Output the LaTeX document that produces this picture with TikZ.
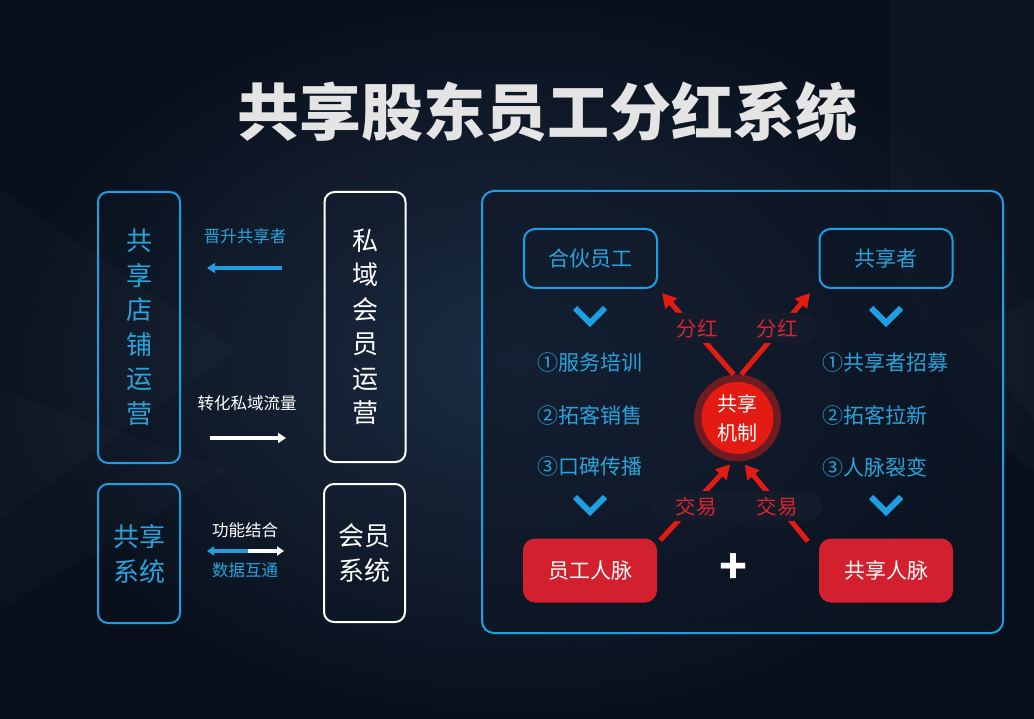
\documentclass[tikz,border=0pt]{standalone}
\usepackage{fontspec}
\newfontfamily\cjk{Noto Sans CJK SC}
\usetikzlibrary{arrows.meta}
\definecolor{bgA}{HTML}{1C2C43}
\definecolor{bgB}{HTML}{09101C}
\definecolor{cyanb}{HTML}{1E9FE3}
\definecolor{cyant}{HTML}{2AA3DB}
\definecolor{redf}{HTML}{D3202F}
\definecolor{redt}{HTML}{D62631}
\definecolor{redarr}{HTML}{E31B12}
\definecolor{halo}{HTML}{6E1C22}
\definecolor{pillc}{HTML}{141B2B}
\definecolor{panelc}{HTML}{0D1625}
\definecolor{titlec}{HTML}{E4E4E4}
\begin{document}
\begin{tikzpicture}[x=1pt,y=-1pt,
  cbox/.style={draw=cyanb, line width=2pt, rounded corners=10pt, align=center},
  wbox/.style={draw=white, line width=2pt, rounded corners=10pt, align=center},
  vtext/.style={font=\cjk\fontsize{26}{34.5}\selectfont},
  btext/.style={font=\cjk\fontsize{26}{35}\selectfont},
  small/.style={font=\cjk\fontsize{16.5}{20}\selectfont},
  item/.style={font=\cjk\fontsize{21}{24}\selectfont, text=cyant, anchor=west, inner sep=0pt},
  topbox/.style={draw=cyanb, line width=2pt, rounded corners=11pt, minimum width=133pt, minimum height=59pt, text=cyant, font=\cjk\fontsize{21}{24}\selectfont},
  redbox/.style={fill=redf, rounded corners=12pt, minimum width=134pt, minimum height=64pt, text=white, font=\cjk\fontsize{21}{24}\selectfont},
  larrow/.style={line width=4pt, -{Triangle[length=8pt,width=10pt]}},
  rarrow/.style={draw=redarr, line width=5pt, -{Triangle[length=14pt,width=15pt]}},
  chev/.style={draw=cyanb, line width=6pt, miter limit=10},
  pill/.style={fill=pillc, rounded corners=15pt},
  redlab/.style={text=redt, font=\cjk\fontsize{20.5}{24}\selectfont},
]
% background
\shade[inner color=bgA, outer color=bgB] (0,0) rectangle (1034,719);
\useasboundingbox (0,0) rectangle (1034,719);
\fill[white, opacity=0.018] (0,190) -- (235,350) -- (0,520) -- cycle;
\fill[white, opacity=0.015] (0,390) -- (230,470) -- (0,610) -- cycle;
\fill[white, opacity=0.025] (890,0) -- (1034,0) -- (1034,470) -- (965,420) -- (890,250) -- cycle;
\fill[white, opacity=0.018] (1034,300) -- (960,330) -- (1034,420) -- cycle;

% title
\node[text=titlec, font=\cjk\bfseries\fontsize{62}{70}\selectfont] (title) at (547,112) {共享股东员工分红系统};

% left part
\node[cbox, vtext, text=cyant, minimum width=82pt, minimum height=271pt] (shop) at (139,327.5) {共\\享\\店\\铺\\运\\营};
\node[wbox, vtext, text=white, minimum width=81pt, minimum height=270pt] (priv) at (365,327) {私\\域\\会\\员\\运\\营};
\node[cbox, btext, text=cyant, minimum width=82pt, minimum height=139pt] (ssys) at (139,553.5) {共享\\系统};
\node[wbox, btext, text=white, minimum width=81pt, minimum height=138pt] (msys) at (364.5,553) {会员\\系统};

\node[small, text=cyant] (l1) at (245,236) {晋升共享者};
\coordinate (a1s) at (282,268);
\coordinate (a1e) at (207,268);
\draw[larrow, cyanb] (a1s) -- (a1e);

\node[small, text=white] (l2) at (247,403) {转化私域流量};
\coordinate (a2s) at (210,438);
\coordinate (a2e) at (286,438);
\draw[larrow, white] (a2s) -- (a2e);

\node[small, text=white] (l3) at (245,530) {功能结合};
\coordinate (a3m) at (248,551);
\coordinate (a3l) at (207,551);
\coordinate (a3r) at (284,551);
\draw[line width=4pt, cyanb, -{Triangle[length=7pt,width=9pt]}] (a3m) -- (a3l);
\draw[line width=4pt, white, -{Triangle[length=7pt,width=9pt]}] (a3m) -- (a3r);
\node[small, text=cyant] (l4) at (245,570) {数据互通};

% right panel
\node[draw=cyanb, fill=panelc, fill opacity=0.55, line width=2pt, rounded corners=12pt, minimum width=521pt, minimum height=442pt] (panel) at (742.5,412) {};

\node[topbox] (partner) at (590.5,258.5) {合伙员工};
\node[topbox] (sharer) at (886,258.5) {共享者};

\draw[chev] (575,308) -- (590,323) -- (605,308);
\draw[chev] (871,308) -- (886,323) -- (901,308);
\draw[chev] (575,497) -- (590,512) -- (605,497);
\draw[chev] (871,497) -- (886,512) -- (901,497);

\node[item] (i1) at (537,363) {①服务培训};
\node[item] (i2) at (537,415) {②拓客销售};
\node[item] (i3) at (537,467) {③口碑传播};
\node[item] (j1) at (822,363) {①共享者招募};
\node[item] (j2) at (822,415) {②拓客拉新};
\node[item] (j3) at (822,467) {③人脉裂变};

\node[redbox] (staffnet) at (590,570.5) {员工人脉};
\node[redbox] (sharenet) at (886,570.5) {共享人脉};

% mechanism
\node[circle, fill=halo, minimum size=87pt, inner sep=0pt] (mech) at (737.5,418) {};
\node[circle, fill=redarr, minimum size=72pt, inner sep=0pt, align=center, text=white, font=\cjk\fontsize{20}{29}\selectfont] (mechin) at (737.5,418) {共享\\机制};

\coordinate (tl) at (662,293);
\coordinate (tr) at (810,293);
\draw[rarrow] (mech.95) -- (tl);
\draw[rarrow] (mech.85) -- (tr);
\draw[rarrow, shorten >=4pt] (staffnet.north east) ++(3,2) coordinate (bls) (bls) -- (mech.264);
\draw[rarrow, shorten >=4pt] (sharenet.north west) ++(-11,3) coordinate (brs) (brs) -- (mech.276);

\node[pill, minimum width=164pt, minimum height=30pt] (p1) at (735,328) {};
\node[pill, minimum width=172pt, minimum height=30pt] (p2) at (736,506) {};
\node[redlab] at (697,329) {分红};
\node[redlab] at (777,329) {分红};
\node[redlab] at (696,507) {交易};
\node[redlab] at (777,507) {交易};

\node[text=white, font=\cjk\bfseries\fontsize{46}{50}\selectfont] (plus) at (734,569) {+};
\end{tikzpicture}
\end{document}
